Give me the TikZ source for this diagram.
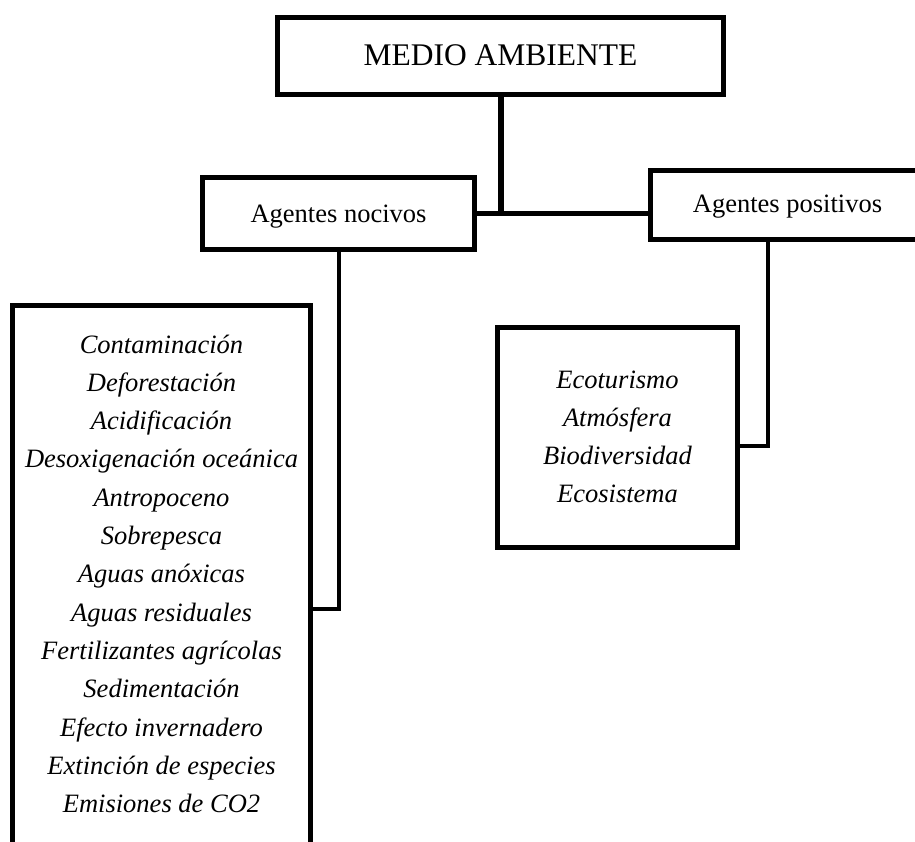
\documentclass[tikz,border=0pt]{standalone}
\usepackage{fontspec}
\setmainfont{Liberation Serif}
\begin{document}
\begin{tikzpicture}[x=1pt,y=-1pt,
  box/.style={draw=black, line width=5pt, fill=white, inner sep=0pt, rectangle},
  conn/.style={draw=black, line width=4.5pt, line cap=rect},
  txt/.style={anchor=base, inner sep=0pt},
  itemtxt/.style={txt, font=\fontsize{26.5}{30}\selectfont\itshape},
  headtxt/.style={txt, font=\fontsize{26.5}{30}\selectfont}]
\useasboundingbox (0,0) rectangle (915,842);
\clip (0,0) rectangle (915,842);
% boxes
\node[box, minimum width=446pt, minimum height=77pt] (top) at (500.5,56) {};
\node[box, minimum width=272pt, minimum height=72pt] (nocivos) at (338.5,213.5) {};
\node[box, minimum width=273pt, minimum height=69pt] (positivos) at (787,205) {};
\node[box, minimum width=298pt, minimum height=575pt] (list) at (161.5,593) {};
\node[box, minimum width=240pt, minimum height=220pt] (plist) at (617.5,437.5) {};
% connectors
\draw[conn, line width=6pt, line cap=butt] (top.south) -- (top.south |- nocivos.east);
\draw[conn, line cap=butt] (nocivos.east) -- (nocivos.east -| positivos.west);
\coordinate (nb) at (339,609);
\draw[conn, line cap=butt] (nb |- nocivos.south) -- (nb) -- (nb -| list.east);
\coordinate (pb) at (768,446);
\draw[conn, line cap=butt] (pb |- positivos.south) -- (pb) -- (pb -| plist.east);
% texts
\node[txt, font=\fontsize{31.5}{36}\selectfont] (ttop) at (500.5,65.5) {MEDIO AMBIENTE};
\node[headtxt] (tnoc) at (338.5,222.5) {Agentes nocivos};
\node[headtxt] (tpos) at (787.5,213) {Agentes positivos};
\foreach \t [count=\i from 0] in {Contaminación,Deforestación,Acidificación,Desoxigenación oceánica,Antropoceno,Sobrepesca,Aguas anóxicas,Aguas residuales,Fertilizantes agrícolas,Sedimentación,Efecto invernadero,Extinción de especies,Emisiones de CO2}
  \node[itemtxt] (n\i) at (161.5,{353+38.3*\i}) {\t};
\foreach \t [count=\i from 0] in {Ecoturismo,Atmósfera,Biodiversidad,Ecosistema}
  \node[itemtxt] (p\i) at (617.5,{388+38.3*\i}) {\t};
\end{tikzpicture}
\end{document}
